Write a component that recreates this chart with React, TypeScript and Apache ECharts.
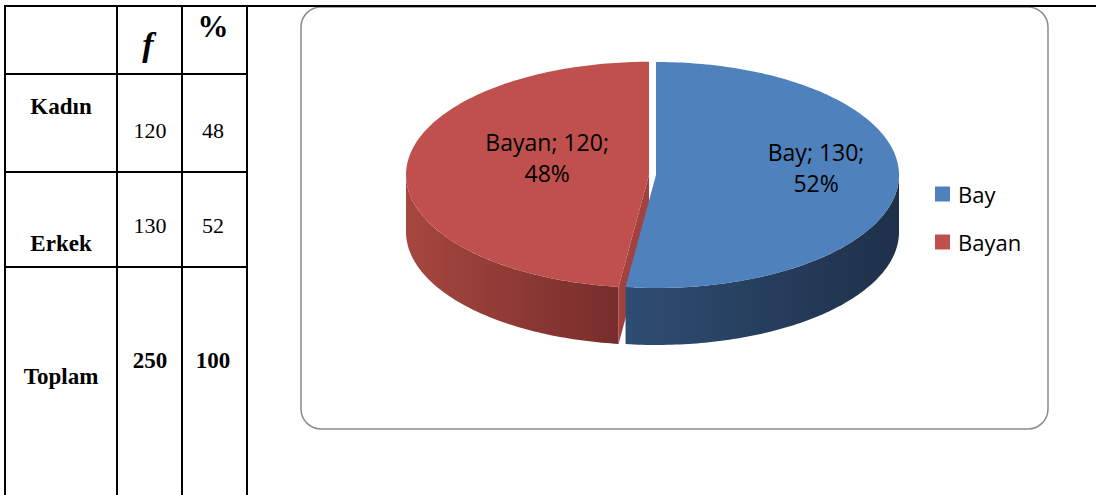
import React, { useEffect, useRef } from "react";
import * as echarts from "echarts";

// ---- data ----
const tableHeaders = ["", "f", "%"];
const tableRows = ["Kadın", "Erkek", "Toplam"];
const tableFreq = [120, 130, 250];
const tablePct = [48, 52, 100];

const pieNames = ["Bay", "Bayan"];
const pieValues = [130, 120];

// ---- styles / layout ----
const topColors = ["#4F81BD", "#C0504D"];
const sideColors = [
  ["#2e4d72", "#1f3049"],
  ["#a6473f", "#772d2b"],
];
const faceColors = ["#3b6596", "#a3413e"];
const explode = [0, 7];
const labelRadius = [0.66, 0.42];
const labelShiftY = [-12, -14];

const CX = 656;
const CY = 175;
const RX = 243;
const RY = 113;
const DEPTH = 57;
const D = Math.PI / 180;

function arcPoints(cx: number, cy: number, a: number, b: number, dy = 0) {
  const pts: number[][] = [];
  const n = Math.max(2, Math.ceil(Math.abs(a - b)));
  for (let k = 0; k <= n; k++) {
    const t = a + ((b - a) * k) / n;
    pts.push([cx + RX * Math.cos(t * D), cy - RY * Math.sin(t * D) + dy]);
  }
  return pts;
}

function makeRender(idx: number) {
  return function renderItem(_params: any, api: any) {
    const value = api.value(0) as number;
    const total = pieValues.reduce((s, v) => s + v, 0);
    let start = 90;
    for (let j = 0; j < idx; j++) start -= (pieValues[j] / total) * 360;
    const end = start - (value / total) * 360;
    const mid = (start + end) / 2;
    const cx = CX + explode[idx] * Math.cos(mid * D);
    const cy = CY - explode[idx] * Math.sin(mid * D) * (RY / RX);

    const children: any[] = [];
    for (let k = -1; k <= 1; k++) {
      const lo = Math.max(end, -180 + 360 * k);
      const hi = Math.min(start, 360 * k);
      if (hi > lo) {
        const topArc = arcPoints(cx, cy, hi, lo);
        const botArc = arcPoints(cx, cy, lo, hi, DEPTH);
        children.push({
          type: "polygon",
          shape: { points: topArc.concat(botArc) },
          style: {
            fill: new echarts.graphic.LinearGradient(0, 0, 1, 0, [
              { offset: 0, color: sideColors[idx][0] },
              { offset: 1, color: sideColors[idx][1] },
            ]),
          },
        });
      }
    }
    const faces: number[] = [];
    if (Math.cos(start * D) < -1e-6) faces.push(start);
    if (Math.cos(end * D) > 1e-6) faces.push(end);
    faces.forEach((t) => {
      const px = cx + RX * Math.cos(t * D);
      const py = cy - RY * Math.sin(t * D);
      children.push({
        type: "polygon",
        shape: {
          points: [
            [cx, cy],
            [px, py],
            [px, py + DEPTH],
            [cx, cy + DEPTH],
          ],
        },
        style: { fill: faceColors[idx] },
      });
    });
    children.push({
      type: "polygon",
      shape: { points: [[cx, cy]].concat(arcPoints(cx, cy, start, end)) },
      style: { fill: topColors[idx] },
    });
    const pct = Math.round((value / total) * 100);
    children.push({
      type: "text",
      x: cx + RX * labelRadius[idx] * Math.cos(mid * D),
      y: cy - RY * labelRadius[idx] * Math.sin(mid * D) + labelShiftY[idx],
      style: {
        text: `${pieNames[idx]}; ${value};\n${pct}%`,
        fill: "#000",
        fontSize: 23,
        fontFamily: "Open Sans",
        align: "center",
        verticalAlign: "middle",
        lineHeight: 31,
      },
    });
    return { type: "group", children };
  };
}

const serif = "Liberation Serif";
function tText(
  text: string,
  x: number,
  y: number,
  size: number,
  weight: string,
  fontStyle = "normal"
) {
  return {
    type: "text",
    x,
    y,
    style: {
      text,
      fontFamily: serif,
      fontSize: size,
      fontWeight: weight,
      fontStyle,
      fill: "#000",
      align: "center",
      verticalAlign: "middle",
    },
  };
}

export default function App() {
  const ref = useRef<HTMLDivElement>(null);
  useEffect(() => {
    if (!ref.current) return;
    const chart = echarts.init(ref.current, undefined, { renderer: "svg" });

    const colX = [5, 117, 182, 247];
    const rowY = [6, 74, 172, 267];
    const lines: any[] = [];
    colX.forEach((x) =>
      lines.push({
        type: "line",
        shape: { x1: x, y1: 6, x2: x, y2: 495 },
        style: { stroke: "#000", lineWidth: 2 },
      })
    );
    lines.push({
      type: "line",
      shape: { x1: 4, y1: 6, x2: 1096, y2: 6 },
      style: { stroke: "#000", lineWidth: 2 },
    });
    rowY.slice(1).forEach((y) =>
      lines.push({
        type: "line",
        shape: { x1: 4, y1: y, x2: 248, y2: y },
        style: { stroke: "#000", lineWidth: 2 },
      })
    );

    const texts: any[] = [];
    texts.push(tText(tableHeaders[1], 148, 44, 34, "bold", "italic"));
    texts.push(tText(tableHeaders[2], 213, 26, 31, "bold"));
    const labelY = [106, 243, 376];
    const valueY = [130, 225, 360];
    tableRows.forEach((r, i) => {
      const bold = i === 2;
      texts.push(tText(r, 61, labelY[i], 23, "bold"));
      texts.push(
        tText(String(tableFreq[i]), 150, valueY[i], bold ? 23 : 22, bold ? "bold" : "normal")
      );
      texts.push(
        tText(String(tablePct[i]), 213, valueY[i], bold ? 23 : 22, bold ? "bold" : "normal")
      );
    });

    chart.setOption({
      animation: false,
      backgroundColor: "#fff",
      graphic: {
        elements: [
          {
            type: "rect",
            z: -10,
            shape: { x: 301, y: 7, width: 747, height: 422, r: 20 },
            style: { fill: "#fff", stroke: "#8c8c8c", lineWidth: 1.5 },
          },
          ...lines,
          ...texts,
        ],
      },
      legend: {
        orient: "vertical",
        left: 930,
        top: 178,
        icon: "rect",
        itemWidth: 15,
        itemHeight: 15,
        itemGap: 26,
        data: pieNames,
        textStyle: {
          fontFamily: "Open Sans",
          fontSize: 22,
          color: "#000",
          lineHeight: 22,
          padding: [0, 0, 0, 3],
        },
      },
      series: pieNames.map((name, i) => ({
        type: "custom",
        name,
        coordinateSystem: "none",
        z: 10 - i,
        silent: true,
        itemStyle: { color: topColors[i] },
        renderItem: makeRender(i),
        data: [{ name, value: [pieValues[i]] }],
      })),
    });
    return () => chart.dispose();
  }, []);
  return (
    <div
      ref={ref}
      style={{ position: "absolute", left: 0, top: 0, width: 1096, height: 495 }}
    />
  );
}
